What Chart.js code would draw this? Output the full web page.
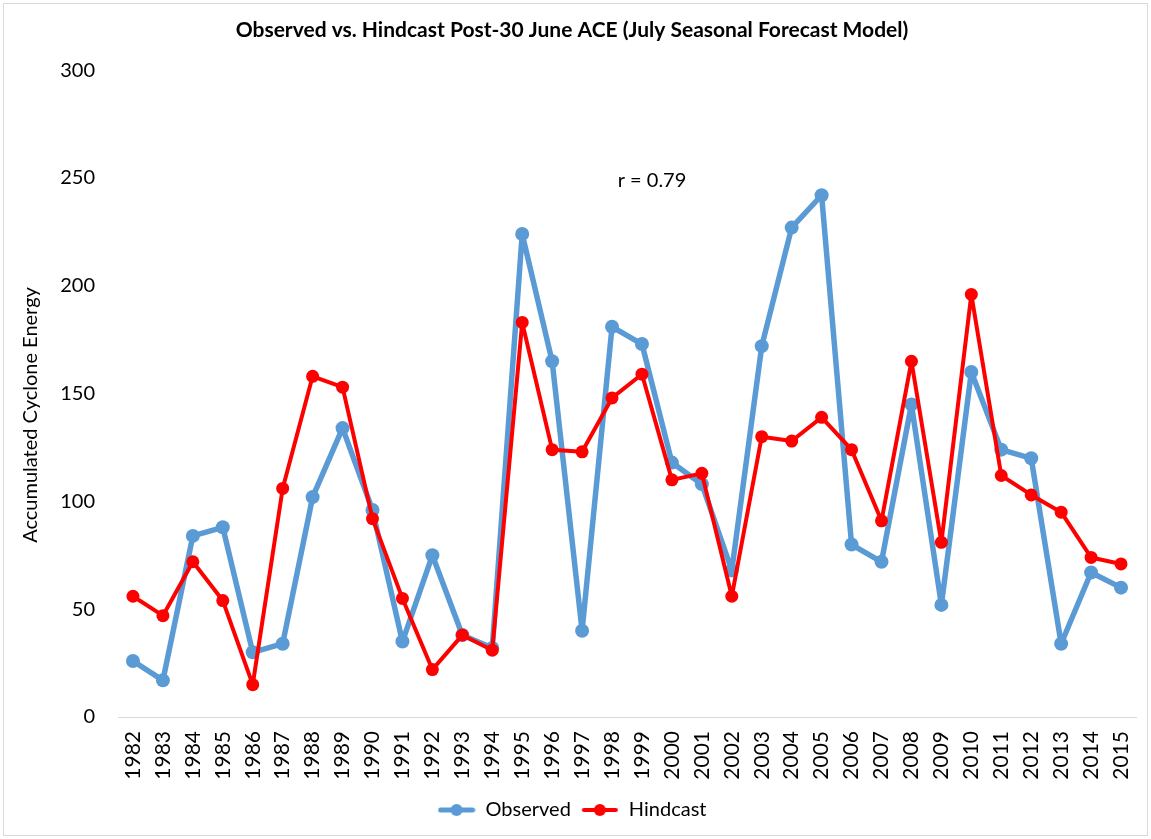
<!DOCTYPE html>
<html>
<head>
<meta charset="utf-8">
<script src="https://cdn.jsdelivr.net/npm/chart.js@4/dist/chart.umd.min.js"></script>
<style>
  body { margin: 0; background: #fff; }
  #wrap { width: 1151px; height: 839px; }
</style>
</head>
<body>
<div id="wrap"><canvas id="myChart"></canvas></div>
<script>
// data
const years = ["1982","1983","1984","1985","1986","1987","1988","1989","1990","1991","1992","1993","1994","1995","1996","1997","1998","1999","2000","2001","2002","2003","2004","2005","2006","2007","2008","2009","2010","2011","2012","2013","2014","2015"];
const observed = [26, 17, 84, 88, 30, 34, 102, 134, 96, 35, 75, 38, 32, 224, 165, 40, 181, 173, 118, 108, 68, 172, 227, 242, 80, 72, 145, 52, 160, 124, 120, 34, 67, 60];
const hindcast = [56, 47, 72, 54, 15, 106, 158, 153, 92, 55, 22, 38, 31, 183, 124, 123, 148, 159, 110, 113, 56, 130, 128, 139, 124, 91, 165, 81, 196, 112, 103, 95, 74, 71];
const yTicks = [0, 50, 100, 150, 200, 250, 300];
const rText = "r = 0.79";

const FONT = "Lato, 'Open Sans', sans-serif";
const blue = "#5B9BD5";
const red = "#FF0000";

// little line+dot image for the legend
function legendIcon(color, lw) {
  const c = document.createElement("canvas");
  c.width = 38; c.height = 14;
  const g = c.getContext("2d");
  g.strokeStyle = color;
  g.lineWidth = lw;
  g.lineCap = "round";
  g.beginPath(); g.moveTo(3, 7); g.lineTo(35, 7); g.stroke();
  g.fillStyle = color;
  g.beginPath(); g.arc(19, 7, 6, 0, Math.PI * 2); g.fill();
  return c;
}
const icons = [legendIcon(blue, 5), legendIcon(red, 4)];

const extras = {
  id: "extras",
  beforeDraw(chart) {
    const ctx = chart.ctx;
    ctx.save();
    ctx.fillStyle = "#fff";
    ctx.fillRect(0, 0, chart.width, chart.height);
    ctx.strokeStyle = "#d9d9d9";
    ctx.lineWidth = 1;
    ctx.strokeRect(3.5, 3.5, chart.width - 7, chart.height - 7);
    ctx.restore();
  },
  afterDraw(chart) {
    const ctx = chart.ctx;
    const a = chart.chartArea;
    ctx.save();
    ctx.fillStyle = "#000";
    ctx.font = "20px " + FONT;
    ctx.textAlign = "center";
    ctx.textBaseline = "middle";
    ctx.fillText(rText, a.left + 534, a.top + 110);
    // y axis title
    ctx.font = "20px " + FONT;
    ctx.translate(31, a.bottom - 302);
    ctx.rotate(-Math.PI / 2);
    ctx.fillText("Accumulated Cyclone Energy", 0, 0);
    ctx.restore();
  }
};

const config = {
  type: "line",
  data: {
    labels: years,
    datasets: [
      {
        label: "Observed",
        data: observed,
        borderColor: blue,
        backgroundColor: blue,
        borderWidth: 5.5,
        borderJoinStyle: "round",
        pointRadius: 7,
        pointHoverRadius: 7,
        pointBorderWidth: 0,
        tension: 0,
        order: 2
      },
      {
        label: "Hindcast",
        data: hindcast,
        borderColor: red,
        backgroundColor: red,
        borderWidth: 4,
        borderJoinStyle: "round",
        pointRadius: 6.5,
        pointHoverRadius: 6.5,
        pointBorderWidth: 0,
        tension: 0,
        order: 1
      }
    ]
  },
  options: {
    responsive: true,
    maintainAspectRatio: false,
    animation: false,
    layout: { padding: { left: 8, right: 15, top: 0, bottom: 9 } },
    scales: {
      x: {
        offset: true,
        grid: { display: false, drawTicks: false },
        border: { display: true, color: "#d9d9d9", width: 1 },
        ticks: {
          color: "#000",
          font: { family: FONT, size: 21 },
          minRotation: 90,
          maxRotation: 90,
          padding: 14,
          autoSkip: false
        },
        afterFit(s) {
          s.height = 73;
          s.paddingLeft = 0;
          s.paddingRight = 0;
        }
      },
      y: {
        min: 0,
        max: 300,
        grid: { display: false, drawTicks: false },
        border: { display: false },
        afterBuildTicks(s) { s.ticks = yTicks.map(v => ({ value: v })); },
        ticks: {
          color: "#000",
          font: { family: FONT, size: 20 },
          padding: 23
        },
        afterFit(s) { s.width = 110; }
      }
    },
    plugins: {
      title: {
        display: true,
        text: "Observed vs. Hindcast Post-30 June ACE (July Seasonal Forecast Model)",
        color: "#000",
        font: { family: FONT, size: 21, weight: "bold" },
        padding: { top: 18, bottom: 27 }
      },
      legend: {
        position: "bottom",
        labels: {
          color: "#000",
          font: { family: FONT, size: 20 },
          usePointStyle: true,
          pointStyleWidth: 38,
          padding: 10,
          generateLabels(chart) {
            return chart.data.datasets.map((d, i) => ({
              text: d.label,
              fillStyle: d.borderColor,
              strokeStyle: d.borderColor,
              pointStyle: icons[i],
              fontColor: "#000",
              datasetIndex: i,
              hidden: false
            }));
          }
        }
      },
      tooltip: { enabled: false }
    }
  },
  plugins: [extras]
};

const myChart = new Chart(document.getElementById("myChart"), config);
</script>
</body>
</html>
